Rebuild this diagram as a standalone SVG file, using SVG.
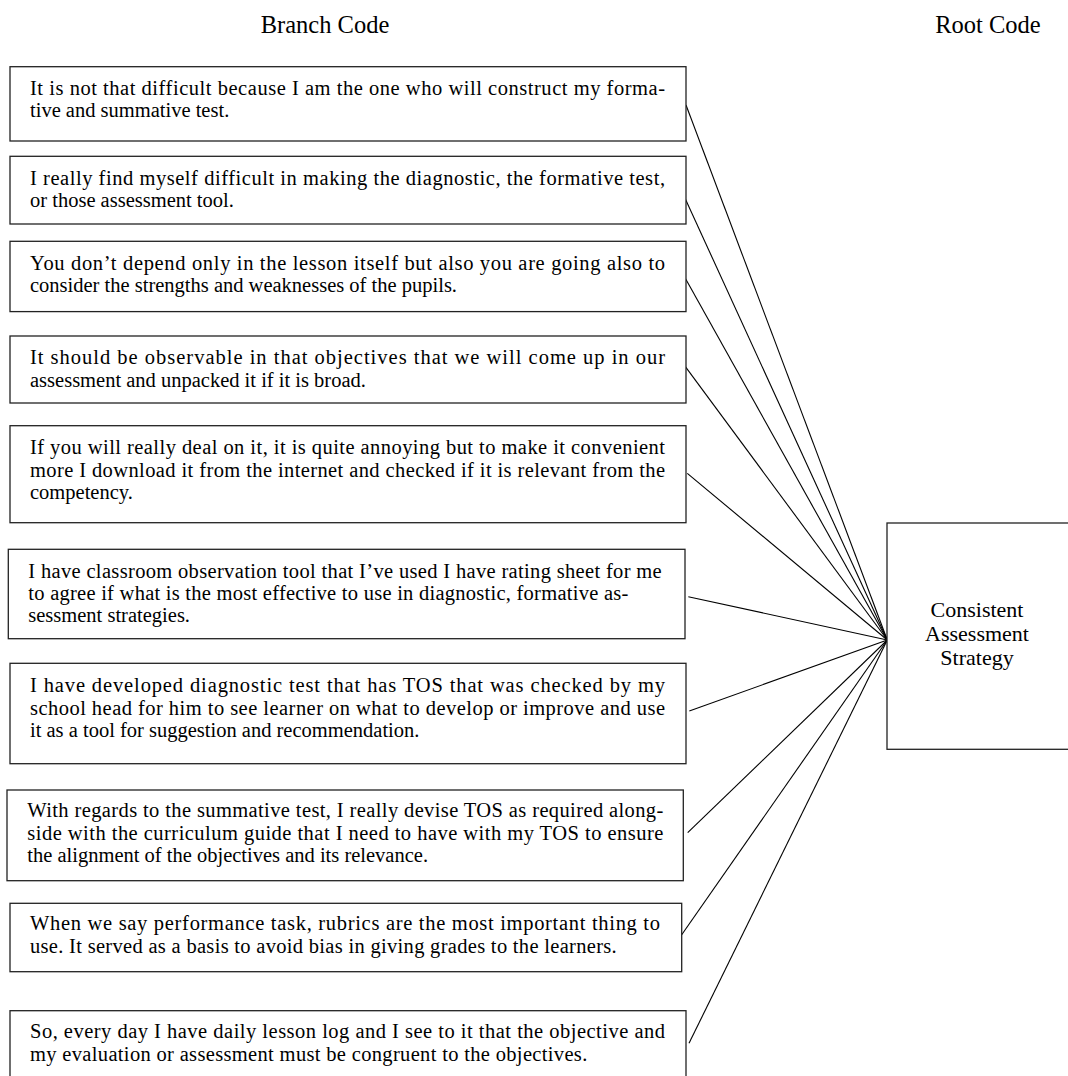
<svg xmlns="http://www.w3.org/2000/svg" width="1068" height="1076" viewBox="0 0 1068 1076">
<style>
.box{fill:#fff;stroke:#222;stroke-width:1.3}
.t{font-family:"Liberation Serif","Times New Roman",serif;font-size:20.5px;fill:#000}
.h{font-family:"Liberation Serif","Times New Roman",serif;font-size:24.5px;fill:#000;text-anchor:middle}
.r{font-family:"Liberation Serif","Times New Roman",serif;font-size:22px;fill:#000;text-anchor:middle}
.c{stroke:#000;stroke-width:1.1;fill:none}
</style>
<rect width="1068" height="1076" fill="#fff"/>
<g id="headers">
<text class="h" x="325" y="33">Branch Code</text>
<text class="h" x="988" y="33">Root Code</text>
</g>
<g id="connectors">
<line class="c" x1="686" y1="105" x2="887.3" y2="640"/>
<line class="c" x1="681.7" y1="191" x2="887.3" y2="640"/>
<line class="c" x1="685.3" y1="278.3" x2="887.3" y2="640"/>
<line class="c" x1="683.7" y1="364.3" x2="887.3" y2="640"/>
<line class="c" x1="687.3" y1="473.3" x2="887.3" y2="640"/>
<line class="c" x1="688.3" y1="596.7" x2="887.3" y2="640"/>
<line class="c" x1="689.3" y1="711" x2="887.3" y2="640"/>
<line class="c" x1="687.7" y1="832.7" x2="887.3" y2="640"/>
<line class="c" x1="680.3" y1="936.7" x2="887.3" y2="640"/>
<line class="c" x1="689" y1="1043.3" x2="887.3" y2="640"/>
</g>
<g id="b1">
<rect class="box" x="10" y="66.7" width="676" height="74.3"/>
<text class="t" x="30" y="95" textLength="635" lengthAdjust="spacing">It is not that difficult because I am the one who will construct my forma-</text>
<text class="t" x="30" y="117">tive and summative test.</text>
</g>
<g id="b2">
<rect class="box" x="10" y="156.3" width="676" height="67.7"/>
<text class="t" x="30" y="185" textLength="635" lengthAdjust="spacing">I really find myself difficult in making the diagnostic, the formative test,</text>
<text class="t" x="30" y="207">or those assessment tool.</text>
</g>
<g id="b3">
<rect class="box" x="10" y="241.3" width="676" height="70.3"/>
<text class="t" x="30" y="270" textLength="635" lengthAdjust="spacing">You don’t depend only in the lesson itself but also you are going also to</text>
<text class="t" x="30" y="292">consider the strengths and weaknesses of the pupils.</text>
</g>
<g id="b4">
<rect class="box" x="10" y="336" width="676" height="67"/>
<text class="t" x="30" y="364" textLength="635" lengthAdjust="spacing">It should be observable in that objectives that we will come up in our</text>
<text class="t" x="30" y="386.5">assessment and unpacked it if it is broad.</text>
</g>
<g id="b5">
<rect class="box" x="10" y="425.7" width="676" height="97"/>
<text class="t" x="30" y="454.3" textLength="635" lengthAdjust="spacing">If you will really deal on it, it is quite annoying but to make it convenient</text>
<text class="t" x="30" y="476.7" textLength="635" lengthAdjust="spacing">more I download it from the internet and checked if it is relevant from the</text>
<text class="t" x="30" y="499">competency.</text>
</g>
<g id="b6">
<rect class="box" x="8.3" y="549.3" width="676.7" height="89.4"/>
<text class="t" x="28.3" y="577.7" textLength="633.4" lengthAdjust="spacing">I have classroom observation tool that I’ve used I have rating sheet for me</text>
<text class="t" x="28.3" y="600" textLength="600" lengthAdjust="spacing">to agree if what is the most effective to use in diagnostic, formative as-</text>
<text class="t" x="28.3" y="622.3">sessment strategies.</text>
</g>
<g id="b7">
<rect class="box" x="10" y="663.3" width="676" height="100.4"/>
<text class="t" x="30" y="691.7" textLength="635" lengthAdjust="spacing">I have developed diagnostic test that has TOS that was checked by my</text>
<text class="t" x="30" y="714.5" textLength="635" lengthAdjust="spacing">school head for him to see learner on what to develop or improve and use</text>
<text class="t" x="30" y="736.7">it as a tool for suggestion and recommendation.</text>
</g>
<g id="b8">
<rect class="box" x="7" y="790" width="676.3" height="90.7"/>
<text class="t" x="27.3" y="816.7" textLength="636" lengthAdjust="spacing">With regards to the summative test, I really devise TOS as required along-</text>
<text class="t" x="27.3" y="839.5" textLength="636" lengthAdjust="spacing">side with the curriculum guide that I need to have with my TOS to ensure</text>
<text class="t" x="27.3" y="861.7">the alignment of the objectives and its relevance.</text>
</g>
<g id="b9">
<rect class="box" x="10" y="903.3" width="671.7" height="68.4"/>
<text class="t" x="30" y="930" textLength="630" lengthAdjust="spacing">When we say performance task, rubrics are the most important thing to</text>
<text class="t" x="30" y="953" textLength="586.7" lengthAdjust="spacing">use. It served as a basis to avoid bias in giving grades to the learners.</text>
</g>
<g id="b10">
<rect class="box" x="10" y="1010.7" width="676" height="80"/>
<text class="t" x="30" y="1038.3" textLength="635" lengthAdjust="spacing">So, every day I have daily lesson log and I see to it that the objective and</text>
<text class="t" x="30" y="1060.7" textLength="557.3" lengthAdjust="spacing">my evaluation or assessment must be congruent to the objectives.</text>
</g>
<g id="root">
<rect class="box" x="887" y="523" width="200" height="226.3"/>
<text class="r" x="977" y="617">Consistent</text>
<text class="r" x="977" y="641">Assessment</text>
<text class="r" x="977" y="665">Strategy</text>
</g>
</svg>
